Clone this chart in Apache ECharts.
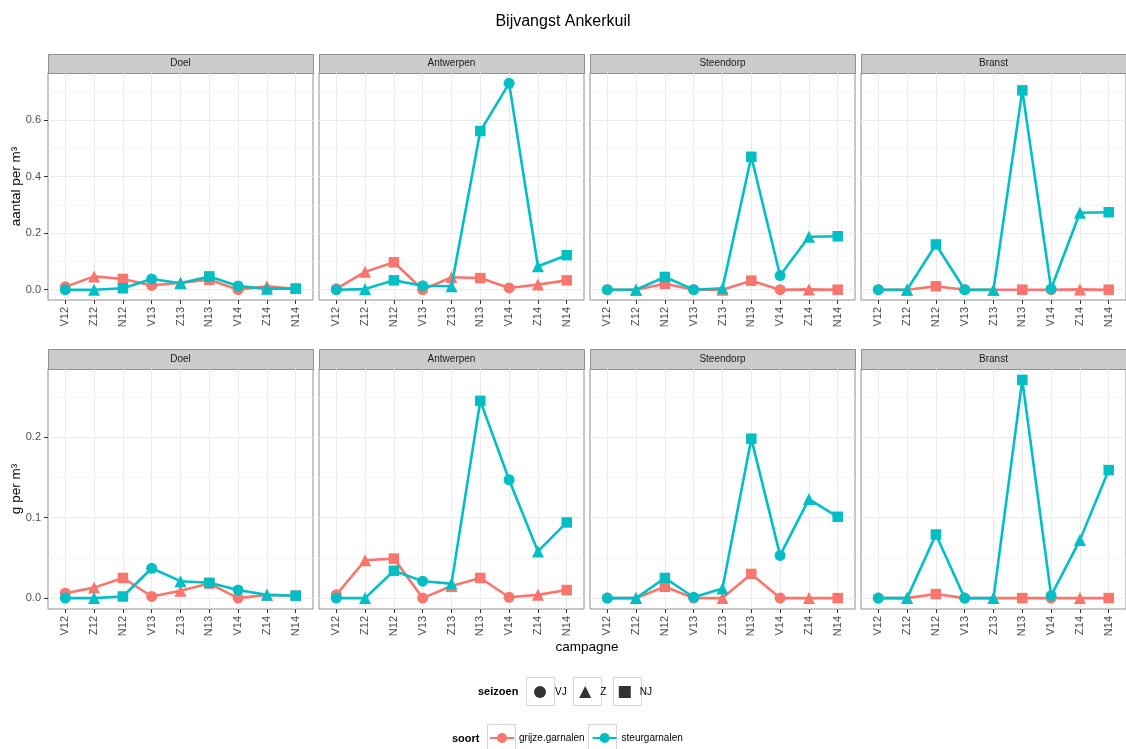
<!DOCTYPE html>
<html><head><meta charset="utf-8">
<script src="https://cdn.jsdelivr.net/npm/echarts@6/dist/echarts.min.js"></script>
<style>html,body{margin:0;padding:0;background:#fff}#c{width:1126px;height:749px}</style>
</head><body><div id="c"></div>
<script>
// ---------- data ----------
const campaigns = ['V12','Z12','N12','V13','Z13','N13','V14','Z14','N14'];
const campaignSeason = ['VJ','Z','NJ','VJ','Z','NJ','VJ','Z','NJ'];
const locations = ['Doel','Antwerpen','Steendorp','Branst'];
const seasons = ['VJ','Z','NJ'];
const species = ['grijze.garnalen','steurgarnalen'];

// aantal per m³
const aantalDoelGrijze       = [0.010, 0.047, 0.038, 0.015, 0.025, 0.035, 0.000, 0.012, 0.003];
const aantalDoelSteur        = [0.000, 0.000, 0.005, 0.038, 0.023, 0.047, 0.013, 0.003, 0.004];
const aantalAntwerpenGrijze  = [0.003, 0.063, 0.097, 0.000, 0.044, 0.041, 0.006, 0.018, 0.033];
const aantalAntwerpenSteur   = [0.000, 0.002, 0.033, 0.014, 0.012, 0.561, 0.730, 0.083, 0.122];
const aantalSteendorpGrijze  = [0.000, 0.000, 0.021, 0.000, 0.000, 0.032, 0.000, 0.001, 0.000];
const aantalSteendorpSteur   = [0.000, 0.000, 0.045, 0.000, 0.005, 0.470, 0.050, 0.187, 0.189];
const aantalBranstGrijze     = [0.000, 0.000, 0.012, 0.000, 0.000, 0.000, 0.000, 0.001, 0.000];
const aantalBranstSteur      = [0.000, 0.000, 0.160, 0.000, 0.000, 0.705, 0.003, 0.272, 0.274];

// g per m³
const gramDoelGrijze         = [0.006, 0.013, 0.025, 0.002, 0.009, 0.018, 0.000, 0.004, 0.003];
const gramDoelSteur          = [0.000, 0.000, 0.002, 0.037, 0.021, 0.019, 0.010, 0.004, 0.003];
const gramAntwerpenGrijze    = [0.004, 0.047, 0.049, 0.000, 0.015, 0.025, 0.001, 0.004, 0.010];
const gramAntwerpenSteur     = [0.000, 0.000, 0.034, 0.021, 0.018, 0.245, 0.147, 0.058, 0.094];
const gramSteendorpGrijze    = [0.000, 0.000, 0.014, 0.000, 0.000, 0.030, 0.000, 0.000, 0.000];
const gramSteendorpSteur     = [0.000, 0.000, 0.025, 0.001, 0.012, 0.198, 0.053, 0.123, 0.101];
const gramBranstGrijze       = [0.000, 0.000, 0.005, 0.000, 0.000, 0.000, 0.000, 0.000, 0.000];
const gramBranstSteur        = [0.000, 0.000, 0.079, 0.000, 0.000, 0.271, 0.003, 0.072, 0.159];

const aantalTicks = [0, 0.2, 0.4, 0.6];
const aantalMinor = [0.1, 0.3, 0.5, 0.7];
const gramTicks = [0, 0.1, 0.2];
const gramMinor = [0.05, 0.15, 0.25];

// ---------- styling / layout ----------
const FONT = '"Liberation Sans", Arial, sans-serif';
const speciesColor = {'grijze.garnalen':'#F8766D', 'steurgarnalen':'#00BFC4'};
const seasonSymbol = {VJ:'circle', Z:'triangle', NJ:'rect'};
const seasonSize = {VJ:11, Z:12, NJ:10.5};
const panelLefts = [48, 319, 590, 861];
const panelWidth = 265;

const rows = [
  {top:73, height:227, stripH:19, label:'aantal per m\u00b3', ticks:aantalTicks, minor:aantalMinor,
   data:[[aantalDoelGrijze,aantalDoelSteur],[aantalAntwerpenGrijze,aantalAntwerpenSteur],
         [aantalSteendorpGrijze,aantalSteendorpSteur],[aantalBranstGrijze,aantalBranstSteur]]},
  {top:369, height:240, stripH:20, label:'g per m\u00b3', ticks:gramTicks, minor:gramMinor,
   data:[[gramDoelGrijze,gramDoelSteur],[gramAntwerpenGrijze,gramAntwerpenSteur],
         [gramSteendorpGrijze,gramSteendorpSteur],[gramBranstGrijze,gramBranstSteur]]}
];

const xIdx = campaigns.map((_, i) => i);
const grids = [], xAxes = [], yAxes = [], series = [], graphics = [];

rows.forEach((row, r) => {
  let mx = 0;
  row.data.forEach(p => p.forEach(a => a.forEach(v => { if (v > mx) mx = v; })));
  const ymin = -0.05 * mx, ymax = mx * 1.05;
  locations.forEach((loc, c) => {
    const k = r * 4 + c;
    grids.push({left: panelLefts[c], top: row.top, width: panelWidth, height: row.height,
      show: true, backgroundColor: '#fff', borderColor: '#8f8f8f', borderWidth: 1,
      containLabel: false, outerBoundsMode: 'none'});
    xAxes.push({gridIndex: k, type: 'value', min: -0.6, max: 8.6, position: 'bottom',
      axisLine: {show: false, onZero: false},
      axisTick: {show: true, length: 4, customValues: xIdx, lineStyle: {color: '#333', width: 1}},
      axisLabel: {customValues: xIdx, formatter: v => campaigns[Math.round(v)], rotate: 90,
        fontSize: 11, color: '#4d4d4d', margin: 7, fontFamily: FONT},
      splitLine: {show: true, lineStyle: {color: '#ebebeb', width: 1}}
    });
    yAxes.push({gridIndex: k, type: 'value', min: ymin, max: ymax, position: 'left',
      axisLine: {show: false, onZero: false},
      axisTick: {show: c === 0, length: 4, customValues: row.ticks, lineStyle: {color: '#333', width: 1}},
      axisLabel: {show: c === 0, customValues: row.ticks, formatter: v => v.toFixed(1),
        fontSize: 11, color: '#4d4d4d', margin: 7, fontFamily: FONT},
      splitLine: {show: true, lineStyle: {color: '#ebebeb', width: 1}},
      name: c === 0 ? row.label : '', nameLocation: 'middle', nameGap: 25, nameRotate: 90,
      nameMoveOverlap: false,
      nameTextStyle: {fontSize: 13.5, color: '#000', fontFamily: FONT}
    });
    yAxes.push({gridIndex: k, type: 'value', min: ymin, max: ymax, position: 'left',
      axisLine: {show: false, onZero: false},
      axisTick: {show: false, customValues: row.minor},
      axisLabel: {show: false, customValues: row.minor},
      splitLine: {show: true, lineStyle: {color: '#f4f4f4', width: 0.8}}
    });
    species.forEach((sp, s) => {
      const vals = row.data[c][s];
      series.push({
        type: 'line', name: sp, xAxisIndex: k, yAxisIndex: 2 * k,
        data: vals.map((v, i) => ({value: [i, v], symbol: seasonSymbol[campaignSeason[i]],
          symbolSize: seasonSize[campaignSeason[i]]})),
        symbol: 'circle', symbolSize: 11, showSymbol: true, showAllSymbol: true,
        itemStyle: {color: speciesColor[sp], opacity: 1},
        lineStyle: {color: speciesColor[sp], width: 2.6},
        z: 2 + s, silent: true, animation: false, emphasis: {disabled: true}
      });
    });
    // strip
    graphics.push({type: 'rect', silent: true,
      shape: {x: panelLefts[c] + 0.5, y: row.top - row.stripH + 0.5, width: panelWidth, height: row.stripH},
      style: {fill: '#cccccc', stroke: '#8f8f8f', lineWidth: 1}});
    graphics.push({type: 'text', silent: true,
      x: panelLefts[c] + panelWidth / 2, y: row.top - row.stripH / 2,
      style: {text: loc, fontSize: 10, fill: '#1a1a1a', align: 'center', verticalAlign: 'middle', fontFamily: FONT}});
  });
});

// dummy series for the shape legend
seasons.forEach(se => {
  series.push({type: 'scatter', name: se, data: [], xAxisIndex: 0, yAxisIndex: 0,
    symbol: seasonSymbol[se], itemStyle: {color: '#000'}});
});

// legend boxes & titles
[[526, 677], [573, 677], [613, 677]].forEach(([x, y]) => graphics.push({type: 'rect', silent: true, z: -1,
  shape: {x: x + 0.5, y: y + 0.5, width: 28, height: 28}, style: {fill: '#fff', stroke: '#d6d6d6', lineWidth: 1}}));
[[487, 724], [588, 724]].forEach(([x, y]) => graphics.push({type: 'rect', silent: true, z: -1,
  shape: {x: x + 0.5, y: y + 0.5, width: 28, height: 28}, style: {fill: '#fff', stroke: '#d6d6d6', lineWidth: 1}}));
graphics.push({type: 'text', silent: true, x: 478, y: 692,
  style: {text: 'seizoen', fontSize: 11, fontWeight: 'bold', fill: '#000', verticalAlign: 'middle', fontFamily: FONT}});
graphics.push({type: 'text', silent: true, x: 452, y: 739,
  style: {text: 'soort', fontSize: 11, fontWeight: 'bold', fill: '#000', verticalAlign: 'middle', fontFamily: FONT}});
graphics.push({type: 'text', silent: true, x: 587, y: 647,
  style: {text: 'campagne', fontSize: 13.5, fill: '#000', align: 'center', verticalAlign: 'middle', fontFamily: FONT}});

const option = {
  animation: false,
  backgroundColor: '#fff',
  title: {text: 'Bijvangst Ankerkuil', left: 'center', top: 9,
    textStyle: {fontSize: 16, fontWeight: 'normal', color: '#000', fontFamily: FONT}},
  grid: grids, xAxis: xAxes, yAxis: yAxes, series: series,
  legend: [
    {data: [{name: 'VJ', icon: 'circle'}, {name: 'Z', icon: 'triangle'}, {name: 'NJ', icon: 'rect'}],
     left: 534, top: 686, padding: 0, itemWidth: 12, itemHeight: 12, itemGap: 12.5,
     selectedMode: false, orient: 'horizontal',
     textStyle: {fontSize: 10, color: '#000', fontFamily: FONT, padding: [0, 0, 0, 4]}},
    {data: species, left: 489, top: 733, padding: 0, itemWidth: 24, itemHeight: 12.5, itemGap: 7,
     selectedMode: false, orient: 'horizontal',
     textStyle: {fontSize: 10, color: '#000', fontFamily: FONT}}
  ],
  graphic: graphics
};
const chart = echarts.init(document.getElementById('c'), null, {renderer: 'canvas'});
chart.setOption(option);
</script></body></html>
